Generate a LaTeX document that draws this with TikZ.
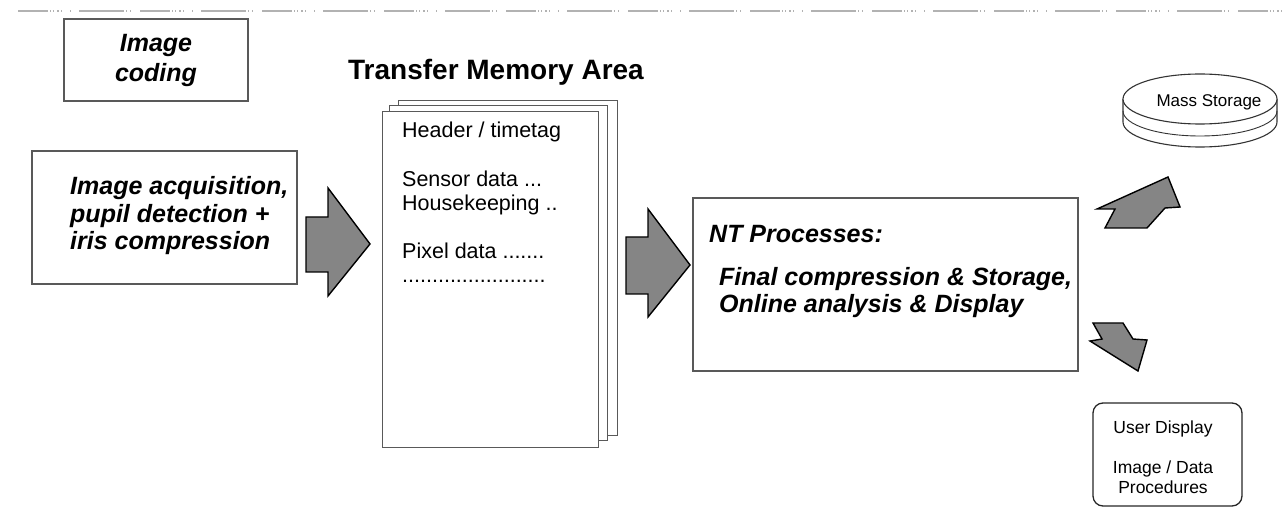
\documentclass[tikz,border=0pt]{standalone}
\usepackage{fontspec}
\setmainfont{Liberation Sans}
\begin{document}
\begin{tikzpicture}[x=1pt,y=-1pt,
  box/.style={draw=black!65, line width=1.1pt, fill=white, inner sep=0pt},
  pagebox/.style={box, anchor=north west},
  barrow/.style={draw=black, line width=1.4pt, fill=black!48, line join=miter},
  bi/.style={font=\fontsize{25}{27}\selectfont\bfseries\itshape, inner sep=0pt, anchor=base west},
  pg/.style={font=\fontsize{21.5}{24}\selectfont, inner sep=0pt, anchor=base west},
  sm/.style={font=\fontsize{17.5}{20}\selectfont, inner sep=0pt, anchor=base},
]
\useasboundingbox (0,0) rectangle (1283,521);

% scan artefact line at the top
\draw[black!30, line width=1.6pt, dash pattern=on 30pt off 2pt on 1pt off 2pt on 1pt off 3pt on 2pt off 2pt on 1pt off 8pt on 1pt off 8pt on 45pt off 2pt on 1pt off 3pt on 1pt off 9pt] (18,11) -- (1283,11);

% Image coding box
\node[box, minimum width=184pt, minimum height=82pt] (ic) at (156,60) {};
\node[bi, anchor=base] (ic1) at (156,52) {Image};
\node[bi, anchor=base] (ic2) at (156,82) {coding};

% Acquisition box
\node[box, minimum width=265pt, minimum height=133pt] (acq) at (164.5,217.5) {};
\node[bi] (acq1) at (70,195) {Image acquisition,};
\node[bi] (acq2) at (70,222.5) {pupil detection +};
\node[bi] (acq3) at (70,250) {iris compression};

% arrow 1
\draw[barrow] (306,217) -- (328,217) -- (328,188) -- (370,244) -- (328,296) -- (328,272) -- (306,272) -- cycle;

% Transfer memory area
\node[font=\fontsize{28}{30}\selectfont\bfseries, inner sep=0pt, anchor=base] (tma) at (496,80) {Transfer Memory Area};
\node[pagebox, minimum width=219pt, minimum height=335pt] (p3) at (398,100) {};
\node[pagebox, minimum width=218pt, minimum height=335pt] (p2) at (389,105) {};
\node[pagebox, minimum width=216pt, minimum height=336pt] (p1) at (382,111) {};
\node[pg] (t1) at (402,138) {Header / timetag};
\node[pg] (t2) at (402,187) {Sensor data ...};
\node[pg] (t3) at (402,211) {Housekeeping ..};
\node[pg] (t4) at (402,259) {Pixel data .......};
\node[pg] (t5) at (402,283) {........................};

% arrow 2
\draw[barrow] (626,237) -- (648,237) -- (648,209) -- (690,265) -- (648,317) -- (648,294) -- (626,294) -- cycle;

% NT box
\node[box, minimum width=385pt, minimum height=173pt] (nt) at (885.5,284.5) {};
\node[bi] (nt1) at (709,243) {NT Processes:};
\node[bi] (nt2) at (719,286) {Final compression \& Storage,};
\node[bi] (nt3) at (719,313) {Online analysis \& Display};

% Mass storage disk
\draw[black!80, line width=1.1pt, fill=white] (1123,99) -- (1123,122) arc[start angle=180, end angle=360, x radius=77, y radius=-25] -- (1277,99);
\draw[black!80, line width=0.9pt] (1123,111) arc[start angle=180, end angle=360, x radius=77, y radius=-25];
\draw[black!80, line width=1.1pt, fill=white] (1200,99) ellipse[x radius=77, y radius=25];
\node[font=\fontsize{17}{20}\selectfont, inner sep=0pt, anchor=base] (ms) at (1209,107) {Mass Storage};

% arrow up-right
\draw[barrow] (1097,209) -- (1168,177) -- (1180,207) -- (1165,208) -- (1147,228) -- (1105,228) -- (1115,209) -- cycle;

% arrow down-right
\draw[barrow] (1093,323) -- (1123,323) -- (1133,339) -- (1147,340) -- (1138,371) -- (1090,341) -- (1102,339) -- cycle;

% User display box
\node[draw=black!85, line width=1.3pt, rounded corners=10pt, minimum width=149pt, minimum height=103pt, inner sep=0pt] (ud) at (1167.5,454.5) {};
\node[sm] (ud1) at (1163,433) {User Display};
\node[sm] (ud2) at (1163,473) {Image / Data};
\node[sm] (ud3) at (1163,493) {Procedures};
\end{tikzpicture}
\end{document}
